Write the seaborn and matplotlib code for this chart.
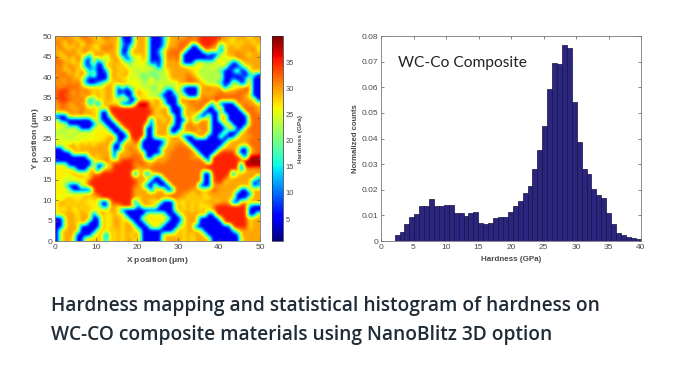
import numpy as np
import matplotlib
matplotlib.use("Agg")
import matplotlib.pyplot as plt
import seaborn as sns

hardness_levels = [0, 5, 12, 18, 23, 26.5, 29.5, 32, 35, 38.5]
map_rows = [
"6676657766 5676661115 6651112566 6677688888 7665666566",
"7657665676 6566652115 6651112566 7776788887 5655656656",
"6756575665 5767652135 6651112666 7771178876 2566566665",
"6675756766 5676651156 6651125677 7711116656 1566666675",
"6567665636 7656651256 5651124777 7111111211 5566766566",
"7656576216 3736664125 4651114767 7111111115 5455676666",
"7766565125 1265665435 5541214666 6111554445 5541256666",
"6757665213 1156656545 4545315666 6655554454 4511125566",
"7665756523 1125665654 4544444566 6665544444 3112511566",
"6776657525 1116656645 4343344566 6676544444 4111121231",
"7667665211 1115665545 4437344466 6677654444 4112112611",
"6767676211 2356566655 5445454544 6677765444 2115412711",
"7677776656 5566515154 5444354345 5211166766 6154567711",
"7887676765 6566511115 6554453115 5111166666 7666777711",
"7877676675 6566514115 6554431112 5511176667 7777776511",
"7887767623 6566555511 5555663111 6677767778 7777776661",
"6776676625 1565551115 9995664111 6667677627 1111767665",
"6776667656 5658888888 8886656611 1566776116 6111177776",
"6667667665 5118888888 8888566611 1566661111 6111117776",
"1116666566 5114888888 8886656661 1665511611 6611111777",
"5111111115 5111588888 8881665661 1166267611 6611111677",
"5551111111 5511158888 8851666651 1676676611 1661111677",
"5444541115 5551115888 8811566611 1667667611 1166116777",
"4445445555 5555111488 8811666611 6667666611 1611166777",
"4544454545 5556611188 8811566566 6111667111 5111566677",
"5454545555 5566611658 8111112566 6611111111 1156666777",
"5555656565 6666116666 5111112666 7661111111 1566665777",
"1156656666 6665115676 6111126667 7776111111 5666611577",
"1111666566 6666166667 6611116677 7777611116 8888411567",
"1111111166 5666166677 7611566677 7776661188 8888851999",
"1111111115 6676668887 7765666777 7777777188 8888879999",
"5551111116 1155888886 7766777777 7777777888 8888819999",
"5555511166 1566888888 5677777777 7777777888 8888816666",
"5555665566 6888888881 6615677777 7777771188 8881566667",
"5554556558 8888888886 6655117777 7777771178 8856666672",
"5545454588 8888888888 6651111777 7777771178 8566666612",
"5541116588 8888888887 6511511177 7777711166 6666666612",
"5554111118 8888888886 6661566117 7776665677 6666611666",
"5554555566 8888888886 6666666677 7665665666 6666111166",
"5456555656 5888888886 5666676677 6656565566 6665111566",
"5665656555 5116888881 6665551116 5565656665 6661166666",
"5656565655 5216658885 1666611115 6565655568 8888888211",
"5556556565 5656651111 1111111115 6565656568 8888888111",
"5666656651 5655656111 1155555111 5666666118 8888888115",
"1156656661 1655665511 1555555511 1566611111 6888888566",
"1156656611 1655665661 1155555111 2566611111 1888888566",
"1156661111 1655665665 1115551111 5566111111 1118888566",
"1566661111 5656565665 5111111115 6566651111 1112566666",
"1566611115 5616565656 6111115665 6565665111 1111166666",
"1566511565 6526565665 6111115666 6565666611 1111156666",
]

# histogram of hardness read bar by bar
bar_counts = [0.0025, 0.0035, 0.0065, 0.0095, 0.0105, 0.0135, 0.0137, 0.0163, 0.0138, 0.0137,
              0.0142, 0.0142, 0.0110, 0.0110, 0.0097, 0.0108, 0.0113, 0.0070, 0.0068, 0.0072,
              0.0088, 0.0095, 0.0095, 0.0113, 0.0138, 0.0155, 0.0188, 0.0213, 0.0281, 0.0354,
              0.0448, 0.0594, 0.0695, 0.0692, 0.0765, 0.0755, 0.0543, 0.0388, 0.0281, 0.0260,
              0.0202, 0.0181, 0.0166, 0.0108, 0.0065, 0.0031, 0.0025, 0.0015, 0.0010, 0.0007]
first_edge = 2.1
bar_width = 0.757

map_xticks = [0, 10, 20, 30, 40, 50]
map_yticks = [0, 5, 10, 15, 20, 25, 30, 35, 40, 45, 50]
cbar_ticks = [5, 10, 15, 20, 25, 30, 35]
hist_xticks = [0, 5, 10, 15, 20, 25, 30, 35, 40]
hist_yticks = [0, 0.01, 0.02, 0.03, 0.04, 0.05, 0.06, 0.07, 0.08]
hist_yticklabels = ["0", "0.01", "0.02", "0.03", "0.04", "0.05", "0.06", "0.07", "0.08"]
caption_lines = ["Hardness mapping and statistical histogram of hardness on",
                 "WC-CO composite materials using NanoBlitz 3D option"]

sns.set_theme(style="white")
plt.rcParams["font.family"] = ["Liberation Sans", "DejaVu Sans"]
plt.rcParams["mathtext.default"] = "regular"

W, H = 675, 375
fig = plt.figure(figsize=(W / 100, H / 100), dpi=100, facecolor="white")


def axes_px(x0, y0, x1, y1):
    return fig.add_axes([x0 / W, 1 - y1 / H, (x1 - x0) / W, (y1 - y0) / H])


TXT = "#4a4a4a"
def style(ax):
    ax.tick_params(direction="in", length=2, width=0.5, labelsize=6, colors="#555555",
                   labelcolor=TXT, pad=2, top=True, right=True, bottom=True, left=True)
    for s in ax.spines.values():
        s.set_linewidth(0.6)
        s.set_color("#777777")


# hardness map
grid = np.array([[hardness_levels[int(c)] for c in r.replace(" ", "")] for r in map_rows])
ax = axes_px(55, 36, 260, 241)
im = ax.imshow(grid, cmap="jet", vmin=0.8, vmax=40, extent=[0, 50, 0, 50], origin="upper",
               interpolation="bicubic", aspect="auto")
ax.set_xticks(map_xticks)
ax.set_yticks(map_yticks)
style(ax)
ax.set_xlabel("X position ($\\mu$m)", fontsize=6, fontweight="bold", color=TXT, labelpad=3)
ax.set_ylabel("Y position ($\\mu$m)", fontsize=6, fontweight="bold", color=TXT, labelpad=1.5)

# colour bar
cax = axes_px(271.5, 36, 283, 241)
cb = fig.colorbar(im, cax=cax)
cb.set_ticks(cbar_ticks)
cax.tick_params(direction="in", length=2, width=0.5, labelsize=5.4, colors="#555555",
                labelcolor=TXT, pad=2, right=True, left=True)
cb.outline.set_linewidth(0.5)
cb.set_label("Hardness (GPa)", fontsize=4.6, fontweight="bold", color=TXT, labelpad=3)

# histogram
ax2 = axes_px(381, 36, 641, 241)
edges = first_edge + bar_width * np.arange(len(bar_counts) + 1)
centers = (edges[:-1] + edges[1:]) / 2
sns.histplot(x=centers, weights=bar_counts, bins=edges.tolist(), color="#2c2580", alpha=1,
             edgecolor="#14123f", linewidth=0.5, ax=ax2)
ax2.set_xlim(0, 40)
ax2.set_ylim(0, 0.08)
ax2.set_xticks(hist_xticks)
ax2.set_yticks(hist_yticks)
ax2.set_yticklabels(hist_yticklabels)
style(ax2)
ax2.set_xlabel("Hardness (GPa)", fontsize=5.8, fontweight="bold", color=TXT, labelpad=4)
ax2.set_ylabel("Normalized counts", fontsize=5.6, fontweight="bold", color=TXT, labelpad=2)
ax2.text(0.067, 0.87, "WC-Co Composite", transform=ax2.transAxes, fontsize=11.2,
         family=["Lato", "DejaVu Sans"], color="#222222", va="center", ha="left")

# caption
fig.text(51 / W, 1 - 306 / H, caption_lines[0], fontsize=13.75, fontweight=600,
         family=["Open Sans", "DejaVu Sans"], color="#1f2b36", va="center", ha="left")
fig.text(51 / W, 1 - 335 / H, caption_lines[1], fontsize=13.75, fontweight=600,
         family=["Open Sans", "DejaVu Sans"], color="#1f2b36", va="center", ha="left")

fig.savefig("out.png", dpi=100, facecolor="white")
